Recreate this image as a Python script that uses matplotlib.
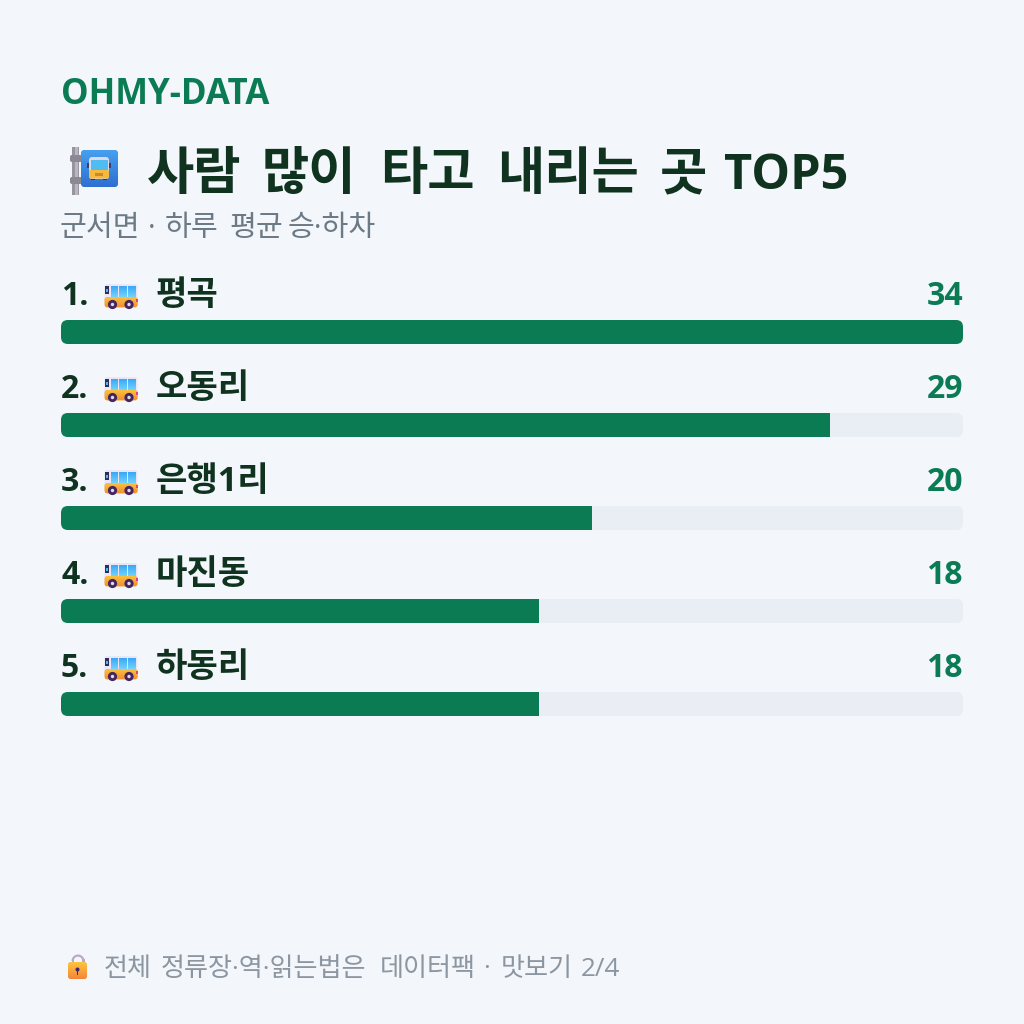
import matplotlib
matplotlib.use("Agg")
import matplotlib.pyplot as plt
import numpy as np
from matplotlib.patches import FancyBboxPatch, Rectangle, Circle, Wedge
from matplotlib.colors import LinearSegmentedColormap

FONT = ["Open Sans", "Noto Sans CJK KR", "DejaVu Sans"]
plt.rcParams["font.family"] = FONT

# chart data
places = ["평곡", "오동리", "은행1리", "마진동", "하동리"]
ranks = ["1.", "2.", "3.", "4.", "5."]
riders = [34, 29, 20, 18, 18]
axis_max = 34

brand = "OHMY-DATA"
title_words = ["사람", "많이", "타고", "내리는", "곳", "TOP5"]
title_x = [147, 262, 380, 497, 660, 724]
subtitle_words = ["군서면", "·", "하루", "평균", "승·하차"]
subtitle_x = [60, 148, 165, 229, 288]
footer_words = ["전체", "정류장·역·읽는법은", "데이터팩", "·", "맛보기", "2/4"]
footer_x = [104, 161, 380, 483, 501, 581]

BG = "#f3f6fb"
GREEN = "#0a7b53"
TRACK = "#e9edf4"
DARK = "#10331f"
GREY = "#6c7a86"
FOOT = "#8b96a1"

fig = plt.figure(figsize=(10.24, 10.24), dpi=100, facecolor=BG)

# canvas axes in pixel units, y pointing down
ax = fig.add_axes([0, 0, 1, 1])
ax.set_xlim(0, 1024)
ax.set_ylim(1024, 0)
ax.axis("off")

# value axes spanning the bar track
LEFT, RIGHT = 61, 963
bar_ax = fig.add_axes([LEFT / 1024, 0, (RIGHT - LEFT) / 1024, 1], zorder=2)
bar_ax.set_xlim(0, axis_max)
bar_ax.set_ylim(1024, 0)
bar_ax.axis("off")
bar_ax.patch.set_alpha(0)

# overlay for text and icons
top = fig.add_axes([0, 0, 1, 1], zorder=3)
top.set_xlim(0, 1024)
top.set_ylim(1024, 0)
top.axis("off")
top.patch.set_alpha(0)


def rounded(x, y, w, h, r, **kw):
    return FancyBboxPatch((x + r, y + r), w - 2 * r, h - 2 * r,
                          boxstyle=f"round,pad={r},rounding_size={r}",
                          linewidth=kw.pop("linewidth", 0), **kw)


def gradient(target, x0, x1, y0, y1, colors, zorder):
    """Fill a patch's extent with a vertical colour ramp, clipped to the patch."""
    cmap = LinearSegmentedColormap.from_list("ramp", colors)
    img = top.imshow(np.linspace(0, 1, 64).reshape(-1, 1), cmap=cmap, aspect="auto",
                     extent=(x0, x1, y1, y0), zorder=zorder, interpolation="bilinear")
    img.set_clip_path(target)
    top.set_xlim(0, 1024)
    top.set_ylim(1024, 0)


def bus_icon(x, y):
    """Small side-view bus, about 33x26 px, with its top-left corner at (x, y)."""
    z = 5
    top.add_patch(rounded(x, y, 33, 22, 2.5, facecolor="#ebe6f7", zorder=z))
    for dx, w in ((6.5, 7), (14.5, 7.5), (23, 7.5)):
        pane = Rectangle((x + dx, y + 2), w, 11, facecolor="#4fb6f5", zorder=z + 1)
        top.add_patch(pane)
        gradient(pane, x + dx, x + dx + w, y + 2, y + 13, ["#37a8f6", "#74d2fa"], z + 2)
    top.add_patch(Rectangle((x, y + 2), 4.5, 8, facecolor="#2c2f5c", zorder=z + 1))
    top.add_patch(Rectangle((x + 1.5, y + 5), 2, 3, facecolor="#49b9ee", zorder=z + 2))
    body = rounded(x, y + 13, 33, 10.5, 3, facecolor="#f5a83a", zorder=z + 3)
    top.add_patch(body)
    gradient(body, x, x + 33, y + 13, y + 23.5, ["#fcc53e", "#f39034"], z + 4)
    top.add_patch(Rectangle((x + 31.5, y + 15), 1.5, 3, facecolor="#e8407a", zorder=z + 5))
    for cx in (x + 8, x + 24.5):
        top.add_patch(Circle((cx, y + 20.5), 4.6, facecolor="#43265f", zorder=z + 6))
        top.add_patch(Circle((cx, y + 20.5), 1.7, facecolor="#e2d9ec", zorder=z + 7))


def stop_icon():
    """Bus stop sign on a grey pole."""
    z = 5
    top.add_patch(Rectangle((72, 147), 7, 48, facecolor="#98959f", zorder=z))
    top.add_patch(Rectangle((75, 147), 2.5, 48, facecolor="#bab7c0", zorder=z + 1))
    for cy in (155, 177):
        top.add_patch(rounded(70, cy, 12, 7, 2, facecolor="#8b8893", zorder=z + 2))
    sign = rounded(81, 150, 37, 37, 4, facecolor="#3a86df", zorder=z + 3)
    top.add_patch(sign)
    gradient(sign, 81, 118, 150, 187, ["#46a0ef", "#2f6fd0"], z + 4)
    z += 5
    top.add_patch(Rectangle((87, 163), 2, 5, facecolor="#4a3a5f", zorder=z))
    top.add_patch(Rectangle((109, 163), 2, 5, facecolor="#4a3a5f", zorder=z))
    top.add_patch(Rectangle((91, 176), 4, 4, facecolor="#3b2a55", zorder=z))
    top.add_patch(Rectangle((103, 176), 4, 4, facecolor="#3b2a55", zorder=z))
    top.add_patch(rounded(89, 157, 20, 22, 3, facecolor="#dcd8ec", zorder=z))
    top.add_patch(Rectangle((90.5, 160), 17, 10, facecolor="#50bdf2", zorder=z + 1))
    top.add_patch(rounded(89, 170, 20, 8.5, 1.5, facecolor="#f6b93b", zorder=z + 1))
    top.add_patch(Rectangle((95, 173), 8, 3, facecolor="#c98a2c", zorder=z + 2))


def lock_icon():
    """Closed padlock with a yellow-to-orange body."""
    z = 5
    top.add_patch(Wedge((78, 961), 6.5, 180, 360, width=2.2, facecolor="#b9a9c9", zorder=z))
    top.add_patch(Rectangle((71.5, 959), 2.2, 5, facecolor="#b9a9c9", zorder=z))
    top.add_patch(Rectangle((82.3, 959), 2.2, 5, facecolor="#b9a9c9", zorder=z))
    body = rounded(68, 962, 19, 17, 3, facecolor="#f9a63a", zorder=z + 1)
    top.add_patch(body)
    gradient(body, 68, 87, 962, 979, ["#fcc63e", "#f5843a"], z + 2)
    top.add_patch(Circle((77.5, 969.5), 2, facecolor="#3f2a66", zorder=z + 3))
    top.add_patch(Rectangle((76.6, 970), 1.8, 4.5, facecolor="#3f2a66", zorder=z + 3))


# heading block
top.text(61, 103.5, brand, fontsize=25, fontweight="bold", color=GREEN, va="baseline", ha="left")
stop_icon()
for word, x in zip(title_words, title_x):
    size = 35 if word.isascii() else 37
    top.text(x, 189, word, fontsize=size, fontweight="bold", color=DARK, va="baseline", ha="left")
for word, x in zip(subtitle_words, subtitle_x):
    top.text(x, 236, word, fontsize=21, color=GREY, va="baseline", ha="left")

# ranked rows
ROW0, PITCH, BAR_H = 320, 93, 24
for i, (rank, place, value) in enumerate(zip(ranks, places, riders)):
    y = ROW0 + i * PITCH
    track = rounded(LEFT, y, RIGHT - LEFT, BAR_H, 7, facecolor=TRACK, zorder=1)
    bar_ax.add_patch(track)
    track.set_transform(ax.transData)
    bars = bar_ax.barh([y + BAR_H / 2], [value], height=BAR_H, left=0, color=GREEN, zorder=2)
    bars[0].set_clip_path(track)

    baseline = y - 15
    top.text(61, baseline, rank, fontsize=23, fontweight="bold", color=DARK, va="baseline", ha="left")
    bus_icon(104.5, y - 36)
    top.text(156, baseline, place, fontsize=24.6, fontweight="bold", color=DARK, va="baseline", ha="left")
    top.text(963, baseline, str(value), fontsize=23, fontweight="bold", color=GREEN, va="baseline", ha="right")

# footer
lock_icon()
for word, x in zip(footer_words, footer_x):
    top.text(x, 975.5, word, fontsize=18.8, color=FOOT, va="baseline", ha="left")

fig.savefig("out.png", dpi=100, facecolor=BG)
